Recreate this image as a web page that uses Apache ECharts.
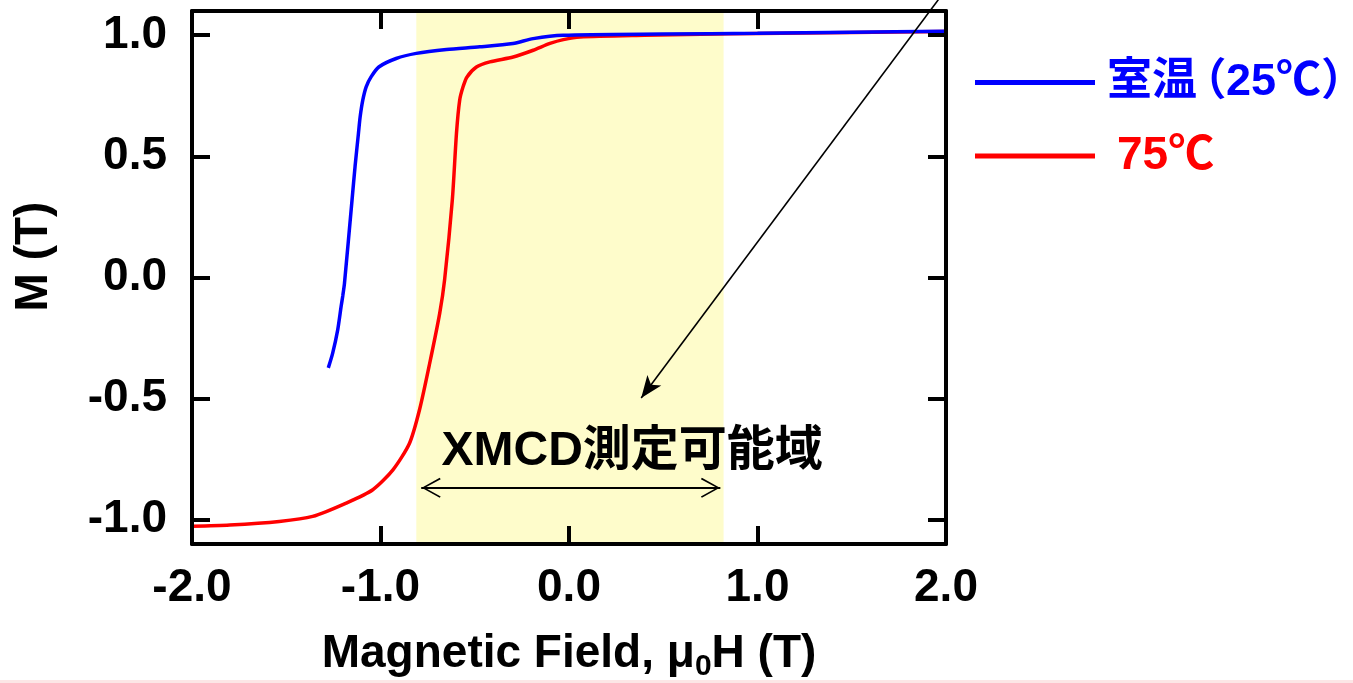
<!DOCTYPE html>
<html><head><meta charset="utf-8">
<script src="https://cdn.jsdelivr.net/npm/echarts@6/dist/echarts.min.js"></script>
<style>html,body{margin:0;padding:0;background:#fff}#c{width:1353px;height:683px}</style>
</head><body><div id="c"></div>
<script>
const FONT = "'Liberation Sans', 'Noto Sans CJK JP', Arial, sans-serif";
const seriesNames = ['室温（25℃）', '75℃'];
const xTickValues = [-2, -1, 0, 1, 2];
const yTickValues = [-1, -0.5, 0, 0.5, 1];
const xAxisTitle = 'Magnetic Field, μ{sub|0}H (T)';
const yAxisTitle = 'M (T)';

// room temperature (25 C)
const roomField = [-1.277, -1.254, -1.227, -1.209, -1.200, -1.191, -1.151, -1.135, -1.117, -1.108, -1.094, -1.076, -1.050, -1.009, -0.917, -0.810, -0.650, -0.473, -0.297, -0.190, -0.030, 0.500, 1.000, 1.500, 2.000];
const roomM     = [-0.373, -0.313, -0.216, -0.120, -0.075, -0.023, 0.320, 0.458, 0.595, 0.663, 0.732, 0.787, 0.828, 0.869, 0.904, 0.925, 0.941, 0.952, 0.966, 0.986, 1.000, 1.005, 1.008, 1.012, 1.016];
// 75 C
const hotField = [-2.000, -1.800, -1.537, -1.360, -1.182, -1.041, -0.934, -0.846, -0.793, -0.739, -0.686, -0.660, -0.619, -0.597, -0.580, -0.562, -0.541, -0.491, -0.420, -0.296, -0.190, -0.101, -0.030, 0.059, 0.400, 0.700, 1.000, 1.500, 2.000];
const hotM     = [-1.027, -1.022, -1.007, -0.986, -0.931, -0.876, -0.794, -0.684, -0.546, -0.354, -0.148, -0.010, 0.320, 0.595, 0.732, 0.787, 0.828, 0.869, 0.890, 0.910, 0.938, 0.966, 0.982, 0.993, 1.000, 1.004, 1.007, 1.011, 1.015];

const xmcdRange = [-0.81, 0.82];
const xmcdArrowX = [-0.784, 0.803];
const xmcdArrowY = -0.868;
const pointerFrom = [1.973, 1.161];
const pointerTo = [0.383, -0.497];
const xmcdLabel = 'XMCD測定可能域';
const xmcdLabelPos = [0.335, -0.72];

const zip = (a, b) => a.map((v, i) => [v, b[i]]);
const BLUE = '#0000FF', RED = '#FF0000';

const chevron = 'path://M10,0 L10.02,0 L10.02,0.02 Z M10,20 L20,38 L18.6,39 L10,23.2 L1.4,39 L0,38 Z';

const axisCommon = {
  type: 'value',
  axisLine: { show: true, onZero: false, lineStyle: { color: '#000', width: 4 } },
  splitLine: { show: false },
  z: 5
};

const option = {
  animation: false,
  backgroundColor: '#fff',
  grid: { left: 192, top: 11, width: 754, height: 533, outerBoundsMode: 'none', containLabel: false },
  graphic: [{ type: 'rect', left: 0, bottom: 0, shape: { width: 1353, height: 3 }, style: { fill: '#FCE6E6' }, silent: true }],
  legend: {
    orient: 'vertical', left: 975, top: 60, itemGap: 28, padding: 0,
    icon: 'rect', itemWidth: 120, itemHeight: 5,
    data: seriesNames,
    selectedMode: false,
    formatter: n => n === seriesNames[0] ? '{b|室温}{bl|（}{b|25℃}{br|）}' : '{r|' + n + '}',
    textStyle: {
      fontFamily: FONT, fontWeight: 'bold', fontSize: 45,
      padding: [0, 0, 0, 7],
      rich: {
        b: { color: BLUE, fontSize: 45, fontWeight: 'bold', fontFamily: FONT },
        bl: { color: BLUE, fontSize: 44, fontWeight: 'bold', fontFamily: FONT, align: 'center', width: 15, padding: [0, 14, 0, 0] },
        br: { color: BLUE, fontSize: 44, fontWeight: 'bold', fontFamily: FONT },
        r: { color: RED, fontSize: 46, fontWeight: 'bold', fontFamily: FONT, padding: [0, 0, 0, 10] }
      }
    }
  },
  xAxis: [
    Object.assign({}, axisCommon, {
      min: -2, max: 2, interval: 1, position: 'bottom',
      axisTick: { show: true, inside: true, length: 18, lineStyle: { color: '#000', width: 4 } },
      axisLabel: { show: true, margin: 21, formatter: v => v.toFixed(1), color: '#000', fontSize: 46, fontWeight: 'bold', fontFamily: FONT },
      name: xAxisTitle, nameLocation: 'middle', nameGap: 82,
      nameTextStyle: { color: '#000', fontSize: 46, fontWeight: 'bold', fontFamily: FONT,
        rich: { sub: { fontSize: 30, fontWeight: 'bold', fontFamily: FONT, color: '#000', verticalAlign: 'top', padding: [26, 0, 0, 0] } } }
    }),
    Object.assign({}, axisCommon, {
      min: -2, max: 2, interval: 1, position: 'top',
      axisTick: { show: true, inside: true, length: 18, lineStyle: { color: '#000', width: 4 } },
      axisLabel: { show: false }
    })
  ],
  yAxis: [
    Object.assign({}, axisCommon, {
      min: -1.1, max: 1.1, position: 'left',
      axisTick: { show: true, inside: true, length: 18, customValues: yTickValues, lineStyle: { color: '#000', width: 4 } },
      axisLabel: { show: true, margin: 25, customValues: yTickValues, formatter: v => v.toFixed(1), color: '#000', fontSize: 46, fontWeight: 'bold', fontFamily: FONT },
      name: yAxisTitle, nameLocation: 'middle', nameGap: 135,
      nameTextStyle: { color: '#000', fontSize: 46, fontWeight: 'bold', fontFamily: FONT, padding: [0, 0, 0, 42] }
    }),
    Object.assign({}, axisCommon, {
      min: -1.1, max: 1.1, position: 'right',
      axisTick: { show: true, inside: true, length: 18, customValues: yTickValues, lineStyle: { color: '#000', width: 4 } },
      axisLabel: { show: false }
    })
  ],
  series: [
    {
      name: seriesNames[1], type: 'line', data: zip(hotField, hotM),
      showSymbol: false, symbol: 'none', smooth: 0.25,
      lineStyle: { color: RED, width: 3.5 }, itemStyle: { color: RED }, z: 3,
      markArea: {
        silent: true,
        itemStyle: { color: '#FEFCCB' },
        data: [[{ xAxis: xmcdRange[0] }, { xAxis: xmcdRange[1] }]]
      }
    },
    {
      name: seriesNames[0], type: 'line', data: zip(roomField, roomM),
      showSymbol: false, symbol: 'none', smooth: 0.25,
      lineStyle: { color: BLUE, width: 3.5 }, itemStyle: { color: BLUE }, z: 4
    },
    {
      name: 'xmcdArrow', type: 'lines', coordinateSystem: 'cartesian2d', clip: false, silent: true,
      symbol: [chevron, chevron], symbolSize: [[20, 39], [20, 39]],
      lineStyle: { color: '#000', width: 1.8, opacity: 1 },
      data: [{ coords: [[xmcdArrowX[0], xmcdArrowY], [xmcdArrowX[1], xmcdArrowY]] }], z: 6
    },
    {
      name: 'pointer', type: 'lines', coordinateSystem: 'cartesian2d', clip: false, silent: true,
      symbol: ['none', 'arrow'], symbolSize: [[13, 22], [13, 22]],
      lineStyle: { color: '#000', width: 1.6, opacity: 1 },
      data: [{ coords: [pointerFrom, pointerTo] }], z: 6
    },
    {
      name: 'xmcdText', type: 'scatter', silent: true, symbolSize: 0,
      data: [xmcdLabelPos],
      itemStyle: { opacity: 1 },
      label: { show: true, position: 'inside', formatter: xmcdLabel, color: '#000', opacity: 1, fontSize: 48, fontWeight: 'bold', fontFamily: FONT },
      z: 6
    }
  ]
};

const chart = echarts.init(document.getElementById('c'), null, { renderer: 'canvas' });
chart.setOption(option);
</script>
</body></html>
